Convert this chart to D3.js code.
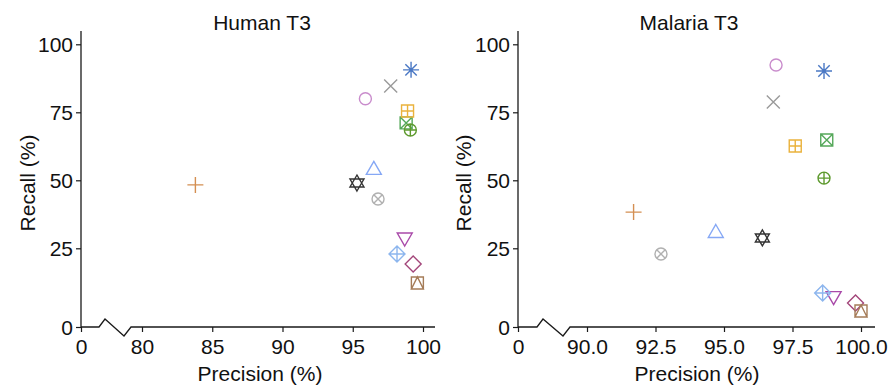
<!DOCTYPE html>
<html>
<head>
<meta charset="utf-8">
<script src="https://cdn.jsdelivr.net/npm/d3@7"></script>
<style>
  html, body { margin: 0; padding: 0; background: #fff; }
  svg text { font-family: "Liberation Sans", Arial, Helvetica, sans-serif; fill: #111; }
</style>
</head>
<body>
<svg id="chart" width="889" height="385"></svg>
<script>
// Methods, each drawn with its own symbol (R-style pch code) and colour
const methods = ["m1", "m2", "m3", "m4", "m5", "m6", "m7", "m8", "m9", "m10", "m11", "m12", "m13", "m14"];
const pchCodes = [1, 2, 3, 4, 5, 6, 7, 8, 9, 10, 11, 12, 13, 14];
const colors = ["#c98ccc", "#86a8f5", "#d48f52", "#9a9a9a", "#a3467a", "#a94aa9", "#55a85a",
                "#4a78c4", "#8db6ee", "#5e9a2e", "#333333", "#eab23c", "#b0b0b0", "#a57c58"];

// Human T3 precision / recall (%)
const humanPrecision = [95.9, 96.5, 83.8, 97.7, 99.3, 98.7, 98.8, 99.15, 98.15, 99.1, 95.3, 98.9, 96.8, 99.6];
const humanRecall    = [80.0, 54.2, 48.3, 84.7, 20.0, 28.6, 71.1, 90.6, 23.2, 68.5, 49.0, 75.5, 43.1, 14.0];

// Malaria T3 precision / recall (%)
const malariaPrecision = [96.9, 94.7, 91.7, 96.8, 99.8, 99.0, 98.75, 98.65, 98.6, 98.65, 96.4, 97.6, 92.7, 100.0];
const malariaRecall    = [92.4, 31.0, 38.3, 78.8, 7.6, 9.5, 64.8, 90.2, 10.8, 50.8, 28.8, 62.6, 23.2, 5.1];

// Axis ticks
const yTicks = [0, 25, 50, 75, 100];
const humanXTicks = [0, 80, 85, 90, 95, 100];
const malariaXTicks = [0, 90, 92.5, 95, 97.5, 100];

const svg = d3.select("#chart");
const FONT = 21;
const axisColor = "#1a1a1a";

// Symbol outlines, centred on 0,0
function symbolPath(pch) {
  const p = d3.path();
  const r = 6;
  const circle = (rad) => { p.moveTo(rad, 0); p.arc(0, 0, rad, 0, 2 * Math.PI); };
  const line = (x1, y1, x2, y2) => { p.moveTo(x1, y1); p.lineTo(x2, y2); };
  const poly = (pts) => { p.moveTo(pts[0][0], pts[0][1]); pts.slice(1).forEach(q => p.lineTo(q[0], q[1])); p.closePath(); };
  const square = (h) => poly([[-h, -h], [h, -h], [h, h], [-h, h]]);
  const diamond = (h) => poly([[0, -h], [h, 0], [0, h], [-h, 0]]);
  switch (pch) {
    case 1: circle(r); break;
    case 2: poly([[0, -7.5], [7.5, 5.5], [-7.5, 5.5]]); break;
    case 3: line(-8, 0, 8, 0); line(0, -8, 0, 8); break;
    case 4: line(-6.5, -6.5, 6.5, 6.5); line(-6.5, 6.5, 6.5, -6.5); break;
    case 5: diamond(8); break;
    case 6: poly([[0, 7.5], [7.5, -5.5], [-7.5, -5.5]]); break;
    case 7: square(r); line(-r, -r, r, r); line(-r, r, r, -r); break;
    case 8: line(-8, 0, 8, 0); line(0, -8, 0, 8); line(-5.7, -5.7, 5.7, 5.7); line(-5.7, 5.7, 5.7, -5.7); break;
    case 9: diamond(8); line(-8, 0, 8, 0); line(0, -8, 0, 8); break;
    case 10: circle(r); line(-r, 0, r, 0); line(0, -r, 0, r); break;
    case 11: poly([[0, -8], [7, 4], [-7, 4]]); poly([[0, 8], [7, -4], [-7, -4]]); break;
    case 12: square(r); line(-r, 0, r, 0); line(0, -r, 0, r); break;
    case 13: circle(r); { const k = r * 0.707; line(-k, -k, k, k); line(-k, k, k, -k); } break;
    case 14: square(r); poly([[0, -r], [r, r], [-r, r]]); break;
  }
  return p.toString();
}

// y mapping shared by both panels (0 sits on the broken baseline)
const yDomain = [0, 25, 100];
const yRange = [327, 248.3, 44.3];

function panel(opts) {
  const x = d3.scaleLinear().domain(opts.xDomain).range(opts.xRange);
  const y = d3.scaleLinear().domain(yDomain).range(yRange);
  const g = svg.append("g");
  const x0 = x(0), y0 = y(0);

  // Title
  g.append("text")
    .attr("x", opts.titleX).attr("y", 30)
    .attr("text-anchor", "middle")
    .style("font-size", FONT + "px")
    .text(opts.title);

  // y axis
  const yAxis = d3.axisLeft(y).tickValues(yTicks).tickSize(5).tickPadding(3).tickFormat(d3.format("d"));
  const ya = g.append("g").attr("transform", `translate(${x0},0)`).call(yAxis);
  ya.select(".domain").remove();
  ya.selectAll("line").attr("stroke", axisColor).attr("stroke-width", 1.2);
  ya.selectAll("text").style("font-size", FONT + "px").attr("font-family", null).attr("dy", "0.36em");
  g.append("line")
    .attr("x1", x0).attr("x2", x0).attr("y1", 31).attr("y2", y0)
    .attr("stroke", axisColor).attr("stroke-width", 1.3);

  // x axis with a zig-zag break after 0
  const xAxis = d3.axisBottom(x).tickValues(opts.xTicks).tickSize(5).tickPadding(3)
    .tickFormat(opts.xFormat);
  const xa = g.append("g").attr("transform", `translate(0,${y0})`).call(xAxis);
  xa.select(".domain").remove();
  xa.selectAll("line").attr("stroke", axisColor).attr("stroke-width", 1.2);
  xa.selectAll("text").style("font-size", FONT + "px").attr("font-family", null).attr("dy", "0.9em");

  const b = opts.breakOffsets;
  const brk = d3.path();
  brk.moveTo(x0, y0);
  brk.lineTo(x0 + b[0], y0);
  brk.lineTo(x0 + b[1], y0 - 8);
  brk.lineTo(x0 + b[2], y0 + 9);
  brk.lineTo(x0 + b[3], y0);
  brk.lineTo(opts.xEnd, y0);
  g.append("path").attr("d", brk.toString())
    .attr("fill", "none").attr("stroke", axisColor).attr("stroke-width", 1.3);

  // Axis titles
  g.append("text")
    .attr("x", opts.xLabelX).attr("y", 381)
    .attr("text-anchor", "middle")
    .style("font-size", FONT + "px")
    .text("Precision (%)");
  g.append("text")
    .attr("transform", `translate(${opts.yLabelX},183) rotate(-90)`)
    .attr("text-anchor", "middle")
    .style("font-size", FONT + "px")
    .text("Recall (%)");

  // Points
  g.append("g").selectAll("path")
    .data(methods.map((m, i) => ({ m, pch: pchCodes[i], c: colors[i], px: opts.precision[i], rc: opts.recall[i] })))
    .join("path")
    .attr("transform", d => `translate(${x(d.px)},${y(d.rc)})`)
    .attr("d", d => symbolPath(d.pch))
    .attr("fill", "none")
    .attr("stroke", d => d.c)
    .attr("stroke-width", 1.4);
}

panel({
  title: "Human T3", titleX: 262,
  xDomain: [0, 80, 100], xRange: [81, 142, 423], xEnd: 435,
  xTicks: humanXTicks, xFormat: d3.format("d"),
  breakOffsets: [18, 24, 43, 50],
  xLabelX: 260, yLabelX: 35,
  precision: humanPrecision, recall: humanRecall
});

panel({
  title: "Malaria T3", titleX: 689,
  xDomain: [0, 90, 100], xRange: [518, 587, 861], xEnd: 875,
  xTicks: malariaXTicks, xFormat: d => d === 0 ? "0" : d3.format(".1f")(d),
  breakOffsets: [19, 25, 45, 52],
  xLabelX: 697, yLabelX: 471,
  precision: malariaPrecision, recall: malariaRecall
});
</script>
</body>
</html>
